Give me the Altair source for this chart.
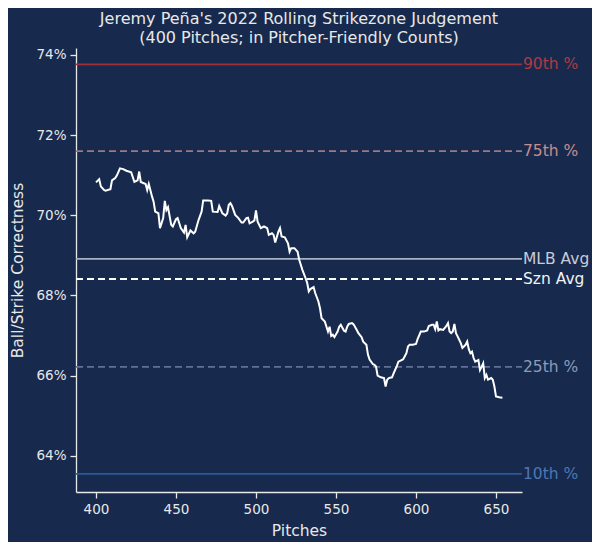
import altair as alt
import pandas as pd

pitches = [400, 402, 403, 405, 406, 409, 410, 412, 413, 415, 417, 419, 422, 424, 426, 427, 428, 431, 432, 433,
           435, 436, 437, 439, 440, 442, 443, 444, 445, 447, 448, 450, 451, 453, 455, 456, 457, 459, 461, 462,
           464, 466, 467, 470, 472, 473, 476, 477, 479, 481, 482, 483, 484, 485, 487, 489, 491, 492, 494, 495,
           496, 498, 499, 500, 501, 503, 505, 507, 508, 510, 511, 512, 514, 515, 516, 518, 520, 521, 522, 524,
           526, 527, 529, 531, 532, 533, 534, 536, 537, 539, 540, 541, 543, 545, 546, 547, 548, 549, 551, 552,
           553, 555, 556, 557, 558, 560, 561, 563, 564, 566, 567, 569, 570, 571, 573, 574, 575, 576, 578, 580,
           581, 582, 583, 585, 586, 588, 589, 591, 592, 594, 595, 596, 598, 600, 601, 603, 605, 607, 608, 610,
           611, 612, 613, 614, 615, 617, 619, 620, 621, 622, 623, 624, 625, 626, 628, 629, 631, 632, 633, 634,
           635, 636, 637, 639, 640, 641, 642, 643, 644, 645, 647, 648, 649, 650, 652, 654]
correctness = [70.82, 70.90, 70.72, 70.63, 70.61, 70.65, 70.87, 70.93, 70.99, 71.17, 71.15, 71.11, 71.07, 70.83, 70.87, 71.09, 70.83, 70.78, 70.63, 70.78,
               70.47, 70.34, 70.09, 70.05, 69.68, 69.93, 70.36, 70.13, 70.20, 69.76, 69.72, 69.90, 69.93, 69.68, 69.57, 69.76, 69.45, 69.62, 69.55, 69.59,
               69.87, 70.09, 70.37, 70.37, 70.36, 70.09, 70.08, 70.23, 70.05, 69.99, 70.05, 70.26, 70.30, 70.23, 70.01, 69.93, 69.82, 69.82, 69.93, 69.94,
               69.80, 69.84, 69.87, 70.12, 69.84, 69.68, 69.72, 69.68, 69.51, 69.55, 69.51, 69.32, 69.59, 69.68, 69.47, 69.45, 69.30, 69.09, 69.18, 69.18,
               69.09, 68.89, 68.64, 68.43, 68.31, 68.10, 68.16, 68.21, 68.06, 67.85, 67.68, 67.43, 67.35, 67.10, 67.22, 66.99, 67.02, 66.96, 67.10, 67.22,
               67.27, 67.12, 67.10, 67.22, 67.29, 67.31, 67.28, 67.14, 67.06, 66.96, 66.85, 66.77, 66.52, 66.40, 66.29, 66.27, 66.23, 66.00, 65.96, 65.94,
               65.73, 65.90, 65.94, 65.96, 66.06, 66.24, 66.35, 66.39, 66.41, 66.56, 66.73, 66.77, 66.77, 66.79, 66.91, 67.10, 67.10, 67.13, 67.24, 67.27,
               67.27, 67.16, 67.35, 67.13, 67.16, 67.14, 67.24, 67.31, 67.10, 67.06, 67.10, 67.29, 67.06, 66.98, 66.81, 66.69, 66.77, 66.85, 66.66, 66.56,
               66.60, 66.44, 66.35, 66.39, 66.14, 66.22, 66.31, 65.94, 66.02, 65.90, 65.94, 65.90, 65.73, 65.48, 65.46, 65.45]

ref_labels = ["90th %", "75th %", "MLB Avg", "Szn Avg", "25th %", "10th %"]
ref_values = [73.76, 71.60, 68.91, 68.41, 66.22, 63.55]
ref_line_colors = ["#9e2f3b", "#9a7a80", "#a9b0bf", "#ffffff", "#5f7296", "#2a5a9a"]
ref_text_colors = ["#ad3a44", "#c98c8c", "#c8cbd6", "#f2f2f2", "#8c9bb8", "#4d77b3"]
ref_dashed = [False, True, False, True, True, False]

x_ticks = [400, 450, 500, 550, 600, 650]
y_ticks = [64, 66, 68, 70, 72, 74]

BG = "#172a4e"
FG = "#e8e8e8"
FONT = "DejaVu Sans"
W, H = 446, 444

line_df = pd.DataFrame({"pitch": pitches, "pct": correctness})
ref_df = pd.DataFrame({"label": ref_labels, "value": ref_values, "lc": ref_line_colors,
                       "tc": ref_text_colors, "dashed": ref_dashed})

xs = alt.Scale(domain=[387.5, 666.25], nice=False, zero=False)
ys = alt.Scale(domain=[63.1, 74.17], nice=False, zero=False)

x_axis = alt.Axis(values=x_ticks, title="Pitches", grid=False, format="d")
y_axis = alt.Axis(values=y_ticks, title="Ball/Strike Correctness", grid=False,
                  labelExpr="datum.value + '%'")

solid = alt.Chart(ref_df).transform_filter("!datum.dashed").mark_rule(strokeWidth=1.8).encode(
    y=alt.Y("value:Q", scale=ys, axis=y_axis),
    x=alt.value(0), x2=alt.value(W),
    color=alt.Color("lc:N", scale=None),
)
dashed = alt.Chart(ref_df).transform_filter("datum.dashed").mark_rule(strokeWidth=1.8, strokeDash=[7, 4]).encode(
    y=alt.Y("value:Q", scale=ys),
    x=alt.value(0), x2=alt.value(W),
    color=alt.Color("lc:N", scale=None),
)
labels = alt.Chart(ref_df).mark_text(align="left", baseline="middle", dx=1, fontSize=15.5, font=FONT).encode(
    y=alt.Y("value:Q", scale=ys),
    x=alt.value(W),
    text="label:N",
    color=alt.Color("tc:N", scale=None),
)
line = alt.Chart(line_df).mark_line(color="#ffffff", strokeWidth=2).encode(
    x=alt.X("pitch:Q", scale=xs, axis=x_axis),
    y=alt.Y("pct:Q", scale=ys),
)

chart = alt.layer(solid, dashed, line, labels).properties(
    width=W, height=H,
    background=BG,
    padding={"left": 68, "top": 40, "right": 70, "bottom": 50},
    autosize=alt.AutoSizeParams(type="none"),
    title=alt.TitleParams(
        text=["Jeremy Peña's 2022 Rolling Strikezone Judgement", "(400 Pitches; in Pitcher-Friendly Counts)"],
        fontSize=16, font=FONT, fontWeight="normal", color=FG, anchor="middle",
        lineHeight=19, baseline="bottom", offset=6, dy=20,
    ),
).configure_view(strokeWidth=0).configure_axis(
    domainColor=FG, domainWidth=1.3, tickColor=FG, tickWidth=1.3, tickSize=6,
    labelColor=FG, labelFont=FONT, labelFontSize=13.5, labelPadding=4,
    titleColor=FG, titleFont=FONT, titleFontSize=15.5, titleFontWeight="normal",
).configure_axisY(titlePadding=10).configure_axisX(titlePadding=8)

chart.save("out.html", embed_options={"renderer": "svg", "actions": False})
